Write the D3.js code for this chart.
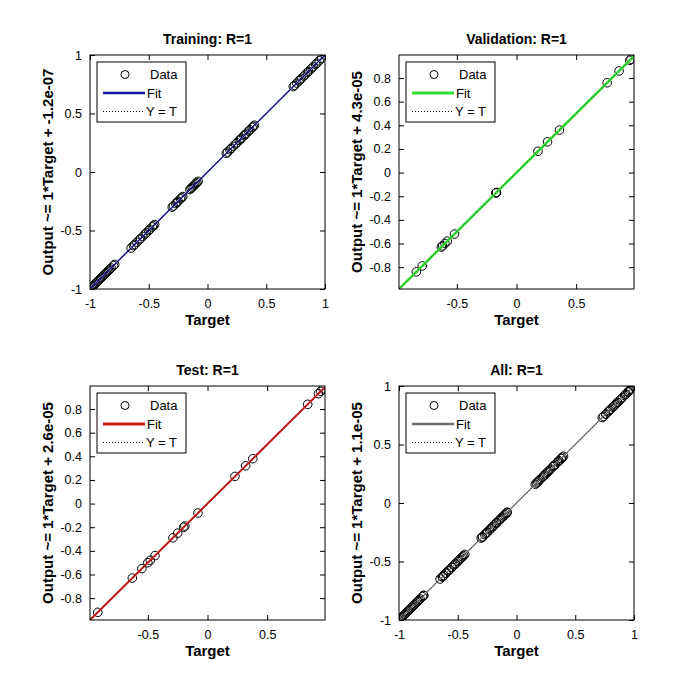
<!DOCTYPE html>
<html><head><meta charset="utf-8">
<script src="https://cdn.jsdelivr.net/npm/d3@7"></script>
<style>
html,body{margin:0;padding:0;background:#fff;}
svg text{font-family:"Liberation Sans",Arial,sans-serif;}
</style></head>
<body>
<svg id="c" width="700" height="700"></svg>
<script>
// ---- data (targets; outputs equal targets, R = 1) ----
const panelTitles = ["Training: R=1", "Validation: R=1", "Test: R=1", "All: R=1"];
const yLabels = [
  "Output ~= 1*Target + -1.2e-07",
  "Output ~= 1*Target + 4.3e-05",
  "Output ~= 1*Target + 2.6e-05",
  "Output ~= 1*Target + 1.1e-05"
];
const trainTargets = [
  -1, -0.99, -0.98, -0.97, -0.96, -0.95, -0.94, -0.93, -0.92, -0.91, -0.9, -0.89, -0.88, -0.87, -0.86, -0.85, -0.84, -0.83, -0.82, -0.8, -0.79,
  -0.65, -0.63, -0.62, -0.6, -0.58, -0.57, -0.55, -0.53, -0.52, -0.5, -0.49, -0.47, -0.46, -0.45,
  -0.3, -0.29, -0.27, -0.26, -0.25, -0.23, -0.22, -0.21,
  -0.15, -0.14, -0.13, -0.12, -0.11, -0.1, -0.09, -0.08,
  0.16, 0.17, 0.19, 0.2, 0.22, 0.24, 0.25, 0.27, 0.28, 0.29, 0.31, 0.32, 0.33, 0.35, 0.36, 0.38, 0.39, 0.4,
  0.73, 0.74, 0.76, 0.78, 0.79, 0.8, 0.82, 0.83, 0.85, 0.86, 0.88, 0.89, 0.9, 0.92, 0.93, 0.95, 0.97, 1.0
];
const trainOutputs = trainTargets.slice();
const valTargets = [-0.84, -0.79, -0.63, -0.62, -0.6, -0.58, -0.52, -0.17, -0.168, -0.172, 0.18, 0.26, 0.36, 0.76, 0.86, 0.95, 0.96];
const valOutputs = valTargets.slice();
const testTargets = [-0.92, -0.63, -0.55, -0.5, -0.48, -0.44, -0.29, -0.25, -0.2, -0.19, -0.08, 0.23, 0.32, 0.38, 0.84, 0.93, 0.95, 0.97];
const testOutputs = testTargets.slice();
const allTargets = trainTargets.concat(valTargets, testTargets);
const allOutputs = trainOutputs.concat(valOutputs, testOutputs);
const fitSlopes = [1, 1, 1, 1];
const fitOffsets = [-1.2e-07, 4.3e-05, 2.6e-05, 1.1e-05];
const ticksFull = [-1, -0.5, 0, 0.5, 1];
const ticksHalf = [-0.5, 0, 0.5];
const ticksFine = [-0.8, -0.6, -0.4, -0.2, 0, 0.2, 0.4, 0.6, 0.8];
const xDomains = [[-1, 1], [-0.985, 0.985], [-0.985, 0.985], [-1, 1]];
const yDomains = [[-1, 1], [-0.985, 0.995], [-0.985, 0.995], [-1, 1]];
const legendLabels = ["Data", "Fit", "Y = T"];

// ---- styles ----
const fitColors = ["#14149e", "#33dd33", "#cc1a1a", "#6e6e6e"];
const fitWidths = [1.5, 2.5, 2, 1.2];
const legendFitWidths = [2.5, 3, 3, 2.5];
const boxes = [
  {x: 90, y: 55, w: 235, h: 234},
  {x: 399, y: 55, w: 235, h: 234},
  {x: 90, y: 386, w: 235, h: 234},
  {x: 399, y: 386, w: 235, h: 234}
];
const panels = [
  {t: trainTargets, o: trainOutputs, xt: ticksFull, yt: ticksFull},
  {t: valTargets, o: valOutputs, xt: ticksHalf, yt: ticksFine},
  {t: testTargets, o: testOutputs, xt: ticksHalf, yt: ticksFine},
  {t: allTargets, o: allOutputs, xt: ticksFull, yt: ticksFull}
];

const svg = d3.select("#c");
const fmt = d => String(d);

panels.forEach((p, i) => {
  const b = boxes[i];
  const g = svg.append("g").attr("transform", `translate(${b.x},${b.y})`);
  const x = d3.scaleLinear().domain(xDomains[i]).range([0, b.w]);
  const y = d3.scaleLinear().domain(yDomains[i]).range([b.h, 0]);

  const clipId = "clip" + i;
  g.append("clipPath").attr("id", clipId).append("rect").attr("width", b.w).attr("height", b.h);

  g.append("rect").attr("width", b.w).attr("height", b.h).attr("fill", "#fff");

  // axes: ticks inside on all four sides
  const tl = 5;
  const axB = g.append("g").attr("transform", `translate(0,${b.h})`)
    .call(d3.axisBottom(x).tickValues(p.xt).tickFormat(fmt).tickSizeInner(-tl).tickSizeOuter(0).tickPadding(8));
  const axT = g.append("g")
    .call(d3.axisTop(x).tickValues(p.xt).tickFormat("").tickSizeInner(-tl).tickSizeOuter(0));
  const axL = g.append("g")
    .call(d3.axisLeft(y).tickValues(p.yt).tickFormat(fmt).tickSizeInner(-tl).tickSizeOuter(0).tickPadding(8));
  const axR = g.append("g").attr("transform", `translate(${b.w},0)`)
    .call(d3.axisRight(y).tickValues(p.yt).tickFormat("").tickSizeInner(-tl).tickSizeOuter(0));
  [axB, axT, axL, axR].forEach(a => {
    a.select(".domain").remove();
    a.selectAll("line").attr("stroke", "#000");
    a.selectAll("text").attr("font-size", 12.5).attr("fill", "#000")
      .style("font-family", "'Liberation Sans', Arial, sans-serif");
  });
  axB.selectAll("text").attr("dy", "0.9em");

  const plot = g.append("g").attr("clip-path", `url(#${clipId})`);
  // data circles
  plot.selectAll("circle").data(p.t.map((t, k) => [t, p.o[k]])).join("circle")
    .attr("cx", d => x(d[0])).attr("cy", d => y(d[1])).attr("r", 4.3)
    .attr("fill", "none").attr("stroke", "#000").attr("stroke-width", 1);
  // fit line
  const xd = x.domain();
  const line = d3.line().x(d => x(d[0])).y(d => y(d[1]));
  plot.append("path")
    .datum(xd.map(v => [v, fitSlopes[i] * v + fitOffsets[i]]))
    .attr("d", line).attr("stroke", fitColors[i]).attr("stroke-width", fitWidths[i]).attr("fill", "none");
  // Y = T
  plot.append("path")
    .datum(xd.map(v => [v, v]))
    .attr("d", line).attr("stroke", "#000").attr("stroke-width", 1)
    .attr("stroke-dasharray", "1,2").attr("fill", "none").attr("opacity", 0.6);

  // frame
  g.append("rect").attr("width", b.w).attr("height", b.h)
    .attr("fill", "none").attr("stroke", "#000").attr("stroke-width", 1);

  // legend
  const lg = g.append("g").attr("transform", "translate(7,7)");
  lg.append("rect").attr("width", 89).attr("height", 60).attr("fill", "#fff").attr("stroke", "#000").attr("stroke-width", 1);
  const rows = [12.5, 31, 49.5];
  lg.append("circle").attr("cx", 28).attr("cy", rows[0]).attr("r", 4).attr("fill", "none").attr("stroke", "#000");
  lg.append("line").attr("x1", 6).attr("x2", 48).attr("y1", rows[1]).attr("y2", rows[1])
    .attr("stroke", fitColors[i]).attr("stroke-width", legendFitWidths[i]);
  lg.append("line").attr("x1", 6).attr("x2", 48).attr("y1", rows[2]).attr("y2", rows[2])
    .attr("stroke", "#000").attr("stroke-width", 1).attr("stroke-dasharray", "1,2");
  const textX = [53, 50, 49];
  legendLabels.forEach((lab, k) => {
    lg.append("text").attr("x", textX[k]).attr("y", rows[k]).attr("dy", "0.35em")
      .attr("font-size", 13).attr("fill", "#000").text(lab);
  });

  // title
  g.append("text").attr("x", b.w / 2).attr("y", -11).attr("text-anchor", "middle")
    .attr("font-size", 14).attr("font-weight", "bold").text(panelTitles[i]);
  // x label
  g.append("text").attr("x", b.w / 2).attr("y", b.h + 36).attr("text-anchor", "middle")
    .attr("font-size", 15).attr("font-weight", "bold").text("Target");
  // y label
  g.append("text").attr("transform", `translate(-37,${b.h / 2}) rotate(-90)`).attr("text-anchor", "middle")
    .attr("font-size", 15).attr("font-weight", "bold").text(yLabels[i]);
});
</script>
</body></html>
